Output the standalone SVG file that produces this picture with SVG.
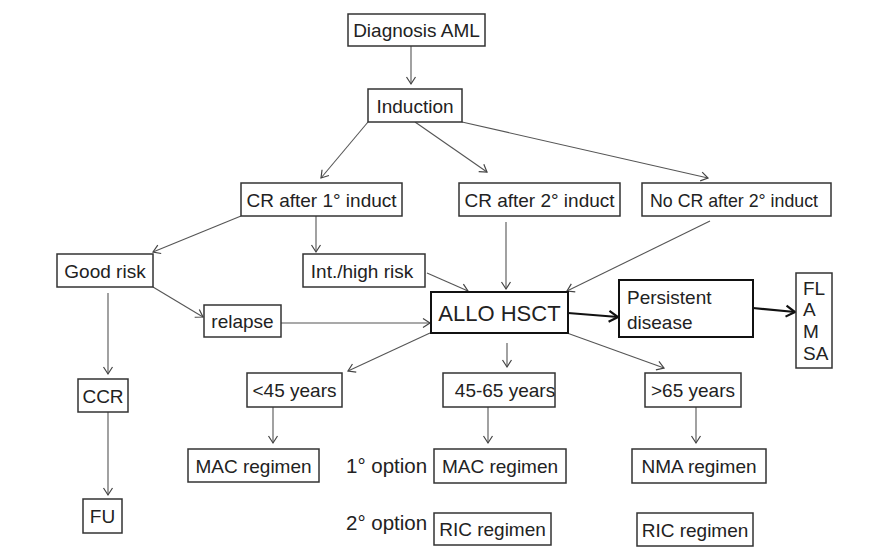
<svg xmlns="http://www.w3.org/2000/svg" width="869" height="553" viewBox="0 0 869 553">
<defs>
<marker id="a" markerUnits="userSpaceOnUse" markerWidth="12" markerHeight="12" refX="9" refY="6" orient="auto">
<path d="M2,1.5 L9,6 L2,10.5" fill="none" stroke="#444" stroke-width="1.2"/>
</marker>
<marker id="b" markerUnits="userSpaceOnUse" markerWidth="14" markerHeight="14" refX="11" refY="7" orient="auto">
<path d="M2,1.5 L11,7 L2,12.5" fill="none" stroke="#111" stroke-width="2.2"/>
</marker>
<style>
rect{fill:#fff;stroke:#333;stroke-width:1.5}
rect.k{stroke:#111;stroke-width:2}
text{font-family:"Liberation Sans",Arial,sans-serif;font-size:19px;fill:#222}
text.c{text-anchor:middle}
.ln{fill:none;stroke:#555;stroke-width:1.1;marker-end:url(#a)}
.th{fill:none;stroke:#111;stroke-width:2.2;marker-end:url(#b)}
</style>
</defs>
<rect x="0" y="0" width="869" height="553" style="fill:#fff;stroke:none"/>
<g id="connectors">
<line class="ln" x1="411" y1="46" x2="411" y2="84"/>
<line class="ln" x1="368" y1="122" x2="321" y2="178"/>
<line class="ln" x1="415" y1="122" x2="487" y2="172"/>
<line class="ln" x1="462" y1="122" x2="708" y2="178"/>
<line class="ln" x1="241" y1="216" x2="153" y2="252"/>
<line class="ln" x1="316" y1="216" x2="316" y2="252"/>
<line class="ln" x1="506" y1="222" x2="506" y2="289"/>
<line class="ln" x1="710" y1="221" x2="567" y2="291"/>
<line class="ln" x1="427" y1="273" x2="468" y2="291"/>
<line class="ln" x1="153" y1="287" x2="203" y2="317"/>
<line class="ln" x1="281" y1="323" x2="430" y2="323"/>
<line class="ln" x1="108" y1="293" x2="108" y2="374"/>
<line class="ln" x1="108" y1="412" x2="108" y2="495"/>
<line class="ln" x1="430" y1="333" x2="348" y2="371"/>
<line class="ln" x1="507" y1="343" x2="507" y2="367"/>
<line class="ln" x1="567" y1="333" x2="664" y2="368"/>
<line class="ln" x1="273" y1="407" x2="273" y2="443"/>
<line class="ln" x1="488" y1="407" x2="488" y2="443"/>
<line class="ln" x1="696" y1="407" x2="696" y2="443"/>
<line class="th" x1="568" y1="313" x2="618" y2="317"/>
<line class="th" x1="753" y1="308" x2="795" y2="312"/>
</g>
<g id="diagnosis"><rect x="348" y="14" width="137" height="32"/><text class="c" x="416.5" y="37">Diagnosis AML</text></g>
<g id="induction"><rect x="368" y="89" width="94" height="33"/><text class="c" x="415" y="112.5">Induction</text></g>
<g id="cr1"><rect x="241" y="183" width="161" height="33"/><text class="c" x="321.5" y="206.5">CR after 1° induct</text></g>
<g id="cr2"><rect x="459" y="183" width="161" height="33"/><text class="c" x="539.5" y="206.5">CR after 2° induct</text></g>
<g id="nocr"><rect x="642" y="183" width="189" height="33"/><text x="650" y="206.5" textLength="168" lengthAdjust="spacingAndGlyphs">No CR after 2° induct</text></g>
<g id="goodrisk"><rect x="57" y="254" width="96" height="33"/><text class="c" x="105" y="277.5">Good risk</text></g>
<g id="inthigh"><rect x="303" y="254" width="122" height="33"/><text class="c" x="362" y="277.5">Int./high risk</text></g>
<g id="relapse"><rect x="204" y="305" width="77" height="32"/><text class="c" x="242.5" y="328">relapse</text></g>
<g id="allo"><rect class="k" x="431" y="292" width="137" height="41"/><text class="c" x="499.5" y="320.5" style="font-size:22px">ALLO HSCT</text></g>
<g id="persistent"><rect class="k" x="619" y="280" width="134" height="57"/><text x="627" y="303.5">Persistent</text><text x="627" y="328.5">disease</text></g>
<g id="flamsa"><rect x="796" y="273" width="36" height="95"/><text x="803" y="294.5">FL</text><text x="803" y="316">A</text><text x="803" y="337.5">M</text><text x="803" y="359.5">SA</text></g>
<g id="ccr"><rect x="78" y="379" width="50" height="33"/><text class="c" x="103" y="402.5">CCR</text></g>
<g id="fu"><rect x="83" y="499" width="39" height="34"/><text class="c" x="102.5" y="523">FU</text></g>
<g id="lt45"><rect x="247" y="373" width="95" height="34"/><text class="c" x="294.5" y="397">&lt;45 years</text></g>
<g id="y4565"><rect x="443" y="373" width="112" height="34"/><text class="c" x="505" y="397">45-65 years</text></g>
<g id="gt65"><rect x="645" y="373" width="96" height="34"/><text class="c" x="693" y="397">&gt;65 years</text></g>
<g id="mac1"><rect x="188" y="449" width="131" height="33"/><text class="c" x="253.5" y="472.5">MAC regimen</text></g>
<g id="mac2"><rect x="434" y="449" width="132" height="34"/><text class="c" x="500" y="473">MAC regimen</text></g>
<g id="ric2"><rect x="434" y="513" width="117" height="32"/><text class="c" x="492.5" y="536">RIC regimen</text></g>
<g id="nma"><rect x="632" y="449" width="134" height="34"/><text class="c" x="699" y="473">NMA regimen</text></g>
<g id="ric3"><rect x="637" y="513" width="116" height="33"/><text class="c" x="695" y="536.5">RIC regimen</text></g>
<g id="opt1"><text x="346" y="473" style="font-size:20.5px">1° option</text></g>
<g id="opt2"><text x="346" y="530" style="font-size:20.5px">2° option</text></g>
</svg>
